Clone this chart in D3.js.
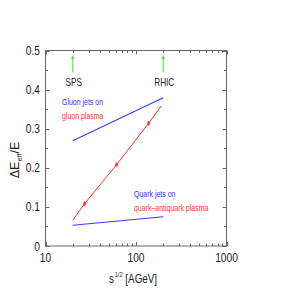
<!DOCTYPE html>
<html>
<head>
<meta charset="utf-8">
<script src="https://cdn.jsdelivr.net/npm/d3@7"></script>
<style>
  body { margin: 0; background: #fff; }
  text { font-family: "Liberation Sans", Arial, sans-serif; }
</style>
</head>
<body>
<div id="chart"></div>
<script>
var lineEnergies = [20, 200];
var gluonJets = [0.269, 0.379];
var quarkJets = [0.053, 0.075];
var gluonPlasmaE = [20, 27, 61, 138, 190];
var gluonPlasma = [0.066, 0.108, 0.208, 0.314, 0.358];
var markerE = [27, 61, 138];
var markerLoss = [0.108, 0.208, 0.314];
var accelerators = ['SPS', 'RHIC'];
var acceleratorE = [20, 200];
var xTicks = [10, 100, 1000];
var yTicks = [0, 0.1, 0.2, 0.3, 0.4, 0.5];

(function() {
  var width = 297, height = 298;

  var svg = d3.select("#chart")
    .append("svg")
    .attr("width", width)
    .attr("height", height);

  var xScale = d3.scaleLog().domain([10, 1000]).range([45.5, 226.5]);
  var yScale = d3.scaleLinear().domain([0, 0.5]).range([246, 50.5]);

  var frameColor = "#666";

  // condensed text like the original postscript font
  function label(x, y, txt, size, color, anchor, sx) {
    return svg.append("text")
      .attr("transform", "translate(" + x + "," + y + ") scale(" + (sx || 0.82) + ",1)")
      .attr("font-size", size)
      .attr("fill", color)
      .attr("text-anchor", anchor || "start")
      .text(txt);
  }

  // ticks, inside on all four sides
  var minorX = [];
  [10, 100].forEach(function(dec) {
    for (var k = 2; k <= 9; k++) minorX.push(dec * k);
  });
  var allX = xTicks.concat(minorX);
  var allY = d3.range(0, 0.501, 0.05);

  allX.forEach(function(v) {
    var x = Math.round(xScale(v)) + 0.5;
    var len = xTicks.indexOf(v) >= 0 ? 4 : 2.5;
    svg.append("line").attr("x1", x).attr("x2", x)
      .attr("y1", yScale(0)).attr("y2", yScale(0) - len)
      .attr("stroke", frameColor).attr("stroke-width", 1);
    svg.append("line").attr("x1", x).attr("x2", x)
      .attr("y1", yScale(0.5)).attr("y2", yScale(0.5) + len)
      .attr("stroke", frameColor).attr("stroke-width", 1);
  });

  allY.forEach(function(v, i) {
    var y = Math.round(yScale(v)) + 0.5;
    var len = i % 2 === 0 ? 4 : 2.5;
    svg.append("line").attr("x1", xScale(10)).attr("x2", xScale(10) + len)
      .attr("y1", y).attr("y2", y)
      .attr("stroke", frameColor).attr("stroke-width", 1);
    svg.append("line").attr("x1", xScale(1000)).attr("x2", xScale(1000) - len)
      .attr("y1", y).attr("y2", y)
      .attr("stroke", frameColor).attr("stroke-width", 1);
  });

  svg.append("rect")
    .attr("x", xScale(10))
    .attr("y", yScale(0.5))
    .attr("width", xScale(1000) - xScale(10))
    .attr("height", yScale(0) - yScale(0.5))
    .attr("fill", "none")
    .attr("stroke", frameColor)
    .attr("stroke-width", 1);

  // tick labels
  yTicks.forEach(function(v) {
    label(40, yScale(v) + 4.5, v === 0 ? "0" : v.toFixed(1), 12, "#222", "end", 0.85);
  });
  xTicks.forEach(function(v) {
    label(xScale(v), 262, String(v), 12, "#222", "middle", 0.85);
  });

  // axis titles
  var xt = svg.append("text")
    .attr("transform", "translate(133,283) scale(0.82,1)")
    .attr("font-size", 12)
    .attr("fill", "#222")
    .attr("text-anchor", "middle");
  xt.append("tspan").text("s");
  xt.append("tspan").attr("font-size", 7).attr("dy", -6).attr("dx", 1).text("1/2");
  xt.append("tspan").attr("dy", 6).text(" [AGeV]");

  var yt = svg.append("text")
    .attr("transform", "translate(19,160) rotate(-90) scale(1.05,1)")
    .attr("font-size", 12)
    .attr("fill", "#222")
    .attr("text-anchor", "middle");
  yt.append("tspan").text("\u0394E");
  yt.append("tspan").attr("font-size", 7).attr("dy", 3).text("eff");
  yt.append("tspan").attr("dy", -3).text("/E");

  var line = d3.line()
    .x(function(d) { return xScale(d[0]); })
    .y(function(d) { return yScale(d[1]); });

  svg.append("path")
    .datum(d3.zip(lineEnergies, gluonJets))
    .attr("d", line)
    .attr("fill", "none")
    .attr("stroke", "#3a3aff")
    .attr("stroke-width", 1.1);

  svg.append("path")
    .datum(d3.zip(lineEnergies, quarkJets))
    .attr("d", line)
    .attr("fill", "none")
    .attr("stroke", "#3a3aff")
    .attr("stroke-width", 1.1);

  svg.append("path")
    .datum(d3.zip(gluonPlasmaE, gluonPlasma))
    .attr("d", line)
    .attr("fill", "none")
    .attr("stroke", "#ff3030")
    .attr("stroke-width", 1);

  svg.selectAll(".marker")
    .data(d3.zip(markerE, markerLoss))
    .enter().append("path")
    .attr("class", "marker")
    .attr("transform", function(d) {
      return "translate(" + xScale(d[0]) + "," + yScale(d[1]) + ")";
    })
    .attr("d", d3.symbol().type(d3.symbolDiamond).size(9))
    .attr("fill", "#ff3030");

  // accelerator arrows
  accelerators.forEach(function(name, i) {
    var x = xScale(acceleratorE[i]);
    svg.append("line")
      .attr("x1", x).attr("x2", x)
      .attr("y1", yScale(0.444)).attr("y2", yScale(0.48))
      .attr("stroke", "#33ee33").attr("stroke-width", 1);
    svg.append("path")
      .attr("d", "M" + (x - 1.8) + "," + (yScale(0.48) + 0.5) + "L" + x + "," + (yScale(0.488)) + "L" + (x + 1.8) + "," + (yScale(0.48) + 0.5) + "Z")
      .attr("fill", "#33ee33");
    label(x + 1, 86, name, 10, "#222", "middle", 0.82);
  });

  // curve labels
  label(62, 105, "Gluon jets on", 8.5, "#3333ff");
  label(62, 119, "gluon plasma", 8.5, "#ff3333");
  label(134, 197, "Quark jets on", 8.5, "#3333ff");
  label(134, 211, "quark\u2013antiquark plasma", 8.5, "#ff3333");
})();
</script>
</body>
</html>
